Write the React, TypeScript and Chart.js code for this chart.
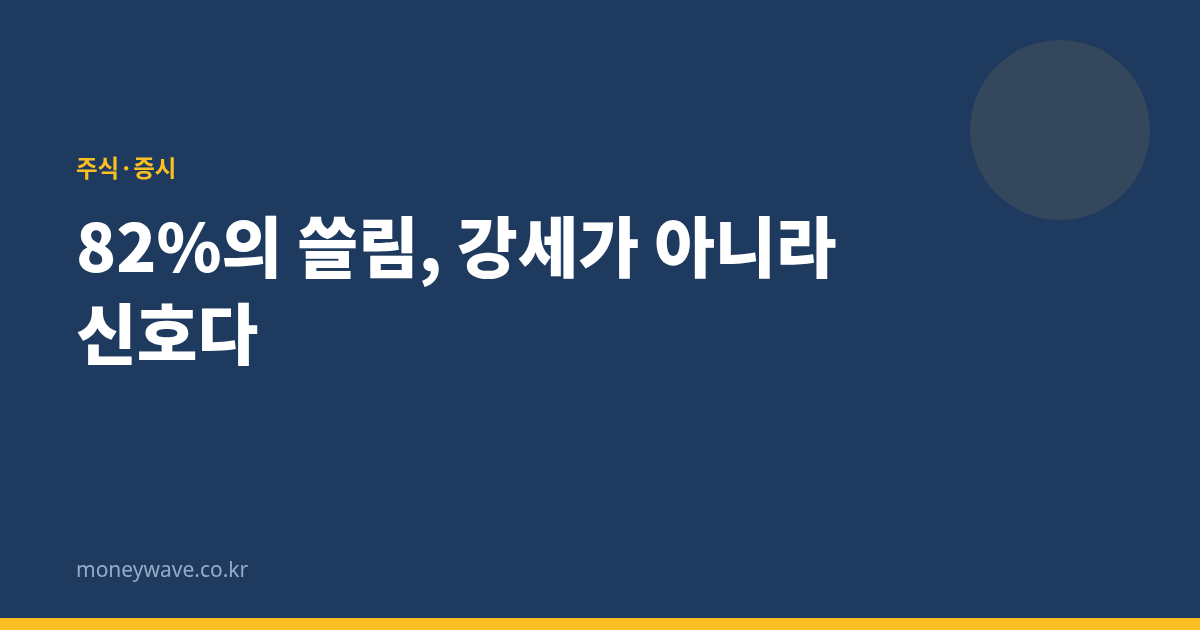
import { useEffect, useRef } from "react";
import Chart from "chart.js/auto";

// decorative bubble (chart coords = page pixels)
const bubbleX = [1060];
const bubbleY = [130];
const bubbleR = [90];

const category = "주식·증시";
const titleLines = ["82%의 쓸림, 강세가 아니라", "신호다"];
const site = "moneywave.co.kr";

export default function App() {
  const ref = useRef<HTMLCanvasElement>(null);
  const chartRef = useRef<Chart | null>(null);

  useEffect(() => {
    document.body.style.margin = "0";
    if (!ref.current) return;
    chartRef.current?.destroy();
    chartRef.current = new Chart(ref.current, {
      type: "bubble",
      data: {
        datasets: [
          {
            data: bubbleX.map((x, i) => ({ x, y: bubbleY[i], r: bubbleR[i] })),
            backgroundColor: "#34475c",
            borderWidth: 0,
          },
        ],
      },
      options: {
        animation: false,
        responsive: false,
        maintainAspectRatio: false,
        events: [],
        layout: { padding: 0, autoPadding: false },
        plugins: { legend: { display: false }, tooltip: { enabled: false } },
        scales: {
          x: { type: "linear", min: 0, max: 1200, display: false },
          y: { type: "linear", min: 0, max: 630, reverse: true, display: false },
        },
      },
    });
    return () => chartRef.current?.destroy();
  }, []);

  return (
    <div
      style={{
        position: "relative",
        width: 1200,
        height: 630,
        background: "#1e3a5f",
        overflow: "hidden",
        fontFamily: "'Noto Sans CJK KR', 'Noto Sans', sans-serif",
      }}
    >
      <canvas
        ref={ref}
        width={1200}
        height={630}
        style={{ position: "absolute", left: 0, top: 0, width: 1200, height: 630 }}
      />
      <div
        style={{
          position: "absolute",
          left: 76,
          top: 151,
          fontSize: 23.5,
          fontWeight: 700,
          color: "#fbbf24",
          lineHeight: "32px",
        }}
      >
        {category}
      </div>
      <div
        style={{
          position: "absolute",
          left: 76,
          top: 200,
          fontSize: 66,
          fontWeight: 900,
          color: "#ffffff",
          lineHeight: "87px",
        }}
      >
        {titleLines.map((l) => (
          <div key={l}>{l}</div>
        ))}
      </div>
      <div
        style={{
          position: "absolute",
          left: 76,
          top: 554,
          fontSize: 21,
          color: "#93acc8",
          lineHeight: "30px",
          fontFamily: "'Noto Sans', sans-serif",
        }}
      >
        {site}
      </div>
      <div
        style={{
          position: "absolute",
          left: 0,
          top: 618,
          width: 1200,
          height: 12,
          background: "#fbbf24",
        }}
      />
    </div>
  );
}
